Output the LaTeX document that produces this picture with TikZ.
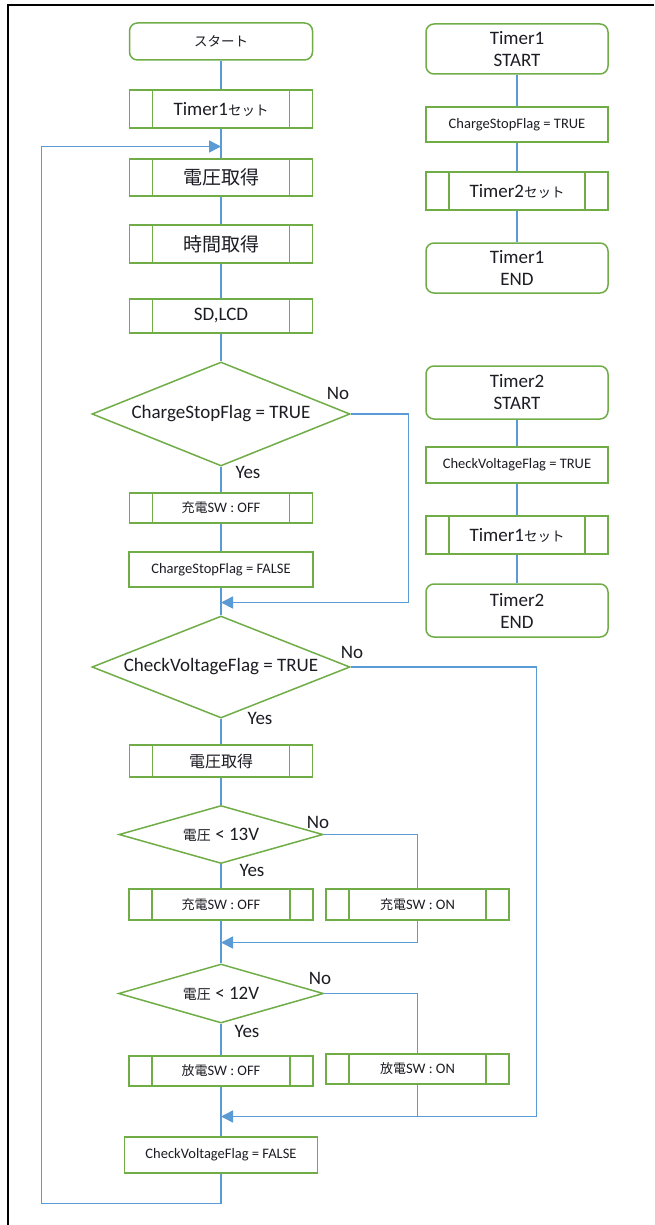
\documentclass[tikz,border=0pt]{standalone}
\usepackage{fontspec}
\setmainfont{Carlito}
\newfontfamily\jpfont{Noto Sans CJK JP}
\usetikzlibrary{shapes.geometric,arrows.meta}
\definecolor{grn}{HTML}{70AD47}
\definecolor{blu}{HTML}{5B9BD5}
\definecolor{txt}{HTML}{1C1C24}
\newcommand\myfs[2]{\fontsize{#1}{#2}\selectfont}
\newcommand\jtxt[2]{{\jpfont\fontsize{#1}{#1}\selectfont #2}}
\begin{document}
\begin{tikzpicture}[x=1pt,y=-1pt,
  box/.style={rectangle,draw=grn,line width=1.5pt,inner sep=0pt,text=txt,font=\myfs{19}{22},align=center},
  small/.style={font=\myfs{14.5}{17}},
  mid/.style={font=\myfs{14.5}{17}},
  sub/.style={box,path picture={\draw[grn,line width=1.5pt]
      ([xshift=23pt]path picture bounding box.north west) -- ([xshift=23pt]path picture bounding box.south west)
      ([xshift=-23pt]path picture bounding box.north east) -- ([xshift=-23pt]path picture bounding box.south east);}},
  term/.style={box,rounded corners=8pt},
  dec/.style={diamond,draw=grn,line width=1.5pt,inner sep=0pt,text=txt,font=\myfs{19}{22}},
  ln/.style={draw=blu,line width=1.6pt},
  arr/.style={ln,-{Triangle[length=12pt,width=12pt]}},
  lbl/.style={text=txt,font=\myfs{19}{22},inner sep=0pt}
]
\useasboundingbox (0,0) rectangle (654,1225);
\fill[white] (0,0) rectangle (654,1225);
% frame
\draw[line width=2.2pt] (7.7,1225) -- (7.7,5) -- (654,5);

% ---------- main column ----------
\node[term,minimum width=183pt,minimum height=37pt] (start) at (221,41.5) {\jtxt{13.5}{スタート}};
\node[sub,minimum width=183pt,minimum height=38pt] (t1set) at (221,109) {Timer1\jtxt{13.5}{セット}};
\node[sub,minimum width=183pt,minimum height=37pt] (v1) at (221,177.5) {\jtxt{19}{電圧取得}};
\node[sub,minimum width=183pt,minimum height=38pt] (time) at (221,244) {\jtxt{19}{時間取得}};
\node[sub,minimum width=183pt,minimum height=34pt] (sd) at (221,316) {SD,LCD};
\node[dec,aspect=2.48,minimum width=258pt,minimum height=104pt] (d1) at (221,414) {ChargeStopFlag = TRUE};
\node[sub,mid,minimum width=183pt,minimum height=30pt] (sw1) at (221,508) {\jtxt{13}{充電}SW : OFF};
\node[box,small,minimum width=184pt,minimum height=35pt] (csf) at (221,569.5) {ChargeStopFlag = FALSE};
\node[dec,aspect=2.53,minimum width=258pt,minimum height=102pt] (d2) at (221,667) {CheckVoltageFlag = TRUE};
\node[sub,minimum width=183pt,minimum height=32pt] (v2) at (221,761) {\jtxt{16}{電圧取得}};
\node[dec,aspect=3.5,minimum width=204pt,minimum height=58pt] (d3) at (221,834.5) {\jtxt{14}{電圧} < 13V};
\node[sub,mid,minimum width=184pt,minimum height=31pt] (sw2off) at (221,904.5) {\jtxt{13}{充電}SW : OFF};
\node[sub,mid,minimum width=183pt,minimum height=31pt] (sw2on) at (417.5,904.5) {\jtxt{13}{充電}SW : ON};
\node[dec,aspect=3.5,minimum width=205pt,minimum height=59pt] (d4) at (221,993.5) {\jtxt{14}{電圧} < 12V};
\node[sub,mid,minimum width=184pt,minimum height=30pt] (disoff) at (221,1071) {\jtxt{13}{放電}SW : OFF};
\node[sub,mid,minimum width=183pt,minimum height=30pt] (dison) at (417.5,1069) {\jtxt{13}{放電}SW : ON};
\node[box,small,minimum width=193pt,minimum height=36pt] (cvf) at (221,1155) {CheckVoltageFlag = FALSE};

% labels
\node[lbl] (no1) at (338,393) {No};
\node[lbl] (yes1) at (248,472) {Yes};
\node[lbl] (no2) at (352,652) {No};
\node[lbl] (yes2) at (260,718) {Yes};
\node[lbl] (no3) at (318,822) {No};
\node[lbl] (yes3) at (252,870) {Yes};
\node[lbl] (no4) at (320,978) {No};
\node[lbl] (yes4) at (247,1031) {Yes};

% coordinates
\coordinate (m1r) at (408.5,602.5);
\coordinate (m1) at (221,602.5);
\coordinate (m2) at (221,942.5);
\coordinate (m3r) at (536.5,1116.5);
\coordinate (m3) at (221,1116.5);
\coordinate (lb) at (41.5,1203.5);
\coordinate (lt) at (41.5,146.5);

% main connectors
\draw[ln] (start) -- (t1set);
\draw[ln] (t1set) -- (v1);
\draw[ln] (v1) -- (time);
\draw[ln] (time) -- (sd);
\draw[ln] (sd) -- (d1);
\draw[ln] (d1) -- (sw1);
\draw[ln] (sw1) -- (csf);
\draw[ln] (csf) -- (d2);
\draw[ln] (d2) -- (v2);
\draw[ln] (v2) -- (d3);
\draw[ln] (d3) -- (sw2off);
\draw[ln] (sw2off) -- (d4);
\draw[ln] (d4) -- (disoff);
\draw[ln] (disoff) -- (cvf);
\draw[arr] (d1.east) -| (m1r) -- (m1);
\draw[ln] (d3.east) -| (sw2on.north);
\draw[arr] (sw2on.south) |- (m2);
\draw[ln] (d4.east) -| (dison.north);
\draw[arr] (d2.east) -| (m3r) -- (m3);
\draw[ln] (dison.south) -- (dison.south |- m3);
\draw[arr] (cvf.south) |- (lb) -- (lt) -- (lt -| t1set.south);

% ---------- right column ----------
\node[term,minimum width=182pt,minimum height=50pt] (t1s) at (517,49) {Timer1\\START};
\node[box,small,minimum width=182pt,minimum height=35pt] (csft) at (517,124.5) {ChargeStopFlag = TRUE};
\node[sub,minimum width=182pt,minimum height=38pt] (t2set) at (517,191) {Timer2\jtxt{13.5}{セット}};
\node[term,minimum width=182pt,minimum height=50pt] (t1e) at (517,268) {Timer1\\END};
\node[term,minimum width=182pt,minimum height=53pt] (t2s) at (517,392.5) {Timer2\\START};
\node[box,small,minimum width=182pt,minimum height=36pt] (cvft) at (517,465) {CheckVoltageFlag = TRUE};
\node[sub,minimum width=182pt,minimum height=38pt] (t1set2) at (517,535) {Timer1\jtxt{13.5}{セット}};
\node[term,minimum width=182pt,minimum height=53pt] (t2e) at (517,610.5) {Timer2\\END};
\draw[ln] (t1s) -- (csft);
\draw[ln] (csft) -- (t2set);
\draw[ln] (t2set) -- (t1e);
\draw[ln] (t2s) -- (cvft);
\draw[ln] (cvft) -- (t1set2);
\draw[ln] (t1set2) -- (t2e);
\end{tikzpicture}
\end{document}
